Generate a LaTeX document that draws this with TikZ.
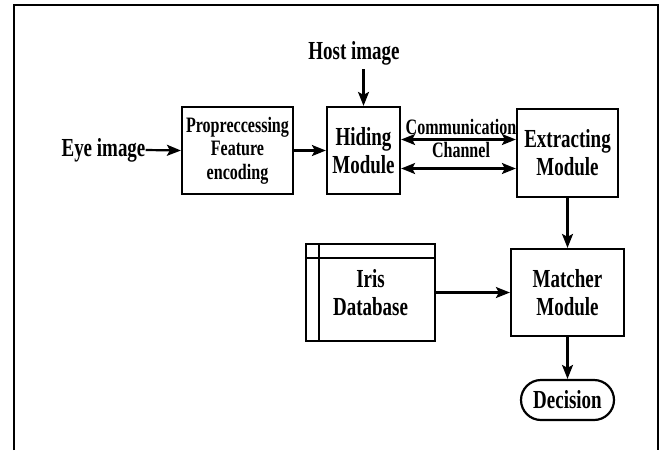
\documentclass[tikz,border=0pt]{standalone}
\usepackage{fontspec}
\newfontfamily\diafont{Liberation Serif}[FakeStretch=0.73]
\usetikzlibrary{arrows.meta, positioning}

\tikzset{
  bigfont/.style={font=\diafont\bfseries\fontsize{26}{28}\selectfont},
  smallfont/.style={font=\diafont\bfseries\fontsize{22}{23.5}\selectfont},
  modbox/.style={draw, line width=2.2pt, inner sep=0pt, align=center, bigfont},
  flow/.style={-{Stealth[length=14pt,width=11pt,inset=3pt]}, line width=2.2pt},
  dflow/.style={{Stealth[length=14pt,width=11pt,inset=3pt]}-{Stealth[length=14pt,width=11pt,inset=3pt]}, line width=2.2pt},
  txt/.style={inner sep=0pt, align=center, bigfont}
}

\begin{document}
\begin{tikzpicture}[x=1pt, y=-1pt]
    \useasboundingbox (0,0) rectangle (660,450);
    % Outer frame (open at the bottom)
    \draw[line width=2.2pt] (14,450) -- (14,5) -- (658,5) -- (658,450);

    % Modules
    \node[modbox, smallfont, minimum width=111pt, minimum height=87pt] (prep) at (237.5,150.5) {Propreccessing\\Feature\\encoding};
    \node[modbox, minimum width=73pt, minimum height=87pt] (hiding) at (363.5,150.5) {Hiding\\Module};
    \node[modbox, minimum width=101pt, minimum height=88pt] (extract) at (567.5,153) {Extracting\\Module};
    \node[modbox, minimum width=113pt, minimum height=87pt] (matcher) at (567.5,292.5) {Matcher\\Module};
    \node[modbox, minimum width=129pt, minimum height=97pt] (db) at (370.5,292.5) {Iris\\Database};
    \draw[line width=2.2pt] ([xshift=14pt]db.north west) -- ([xshift=14pt]db.south west);
    \draw[line width=2.2pt] ([yshift=-15pt]db.north west) -- ([yshift=-15pt]db.north east);
    \node[modbox, rounded corners=20pt, minimum width=93pt, minimum height=40pt] (decision) at (567.5,400) {Decision};

    % Inputs
    \node[txt] (eye) at (103.5,150) {Eye image};
    \node[txt] (host) at (354,53) {Host image};

    % Connectors
    \draw[flow] (eye.east) -- (prep.west);
    \draw[flow] (prep.east) -- (hiding.west);
    \draw[flow, shorten <=4pt] (hiding.north |- host.south) -- (hiding.north);
    \draw[dflow] ([yshift=11pt]hiding.east) -- ([yshift=11pt]hiding.east -| extract.west);
    \draw[dflow] ([yshift=-18pt]hiding.east) -- ([yshift=-18pt]hiding.east -| extract.west);
    \node[txt, smallfont] (channel) at (461,138.5) {Communication\\Channel};
    \draw[flow] (extract.south) -- (matcher.north);
    \draw[flow] (db.east) -- (matcher.west);
    \draw[flow] (matcher.south) -- (decision.north);
\end{tikzpicture}
\end{document}
